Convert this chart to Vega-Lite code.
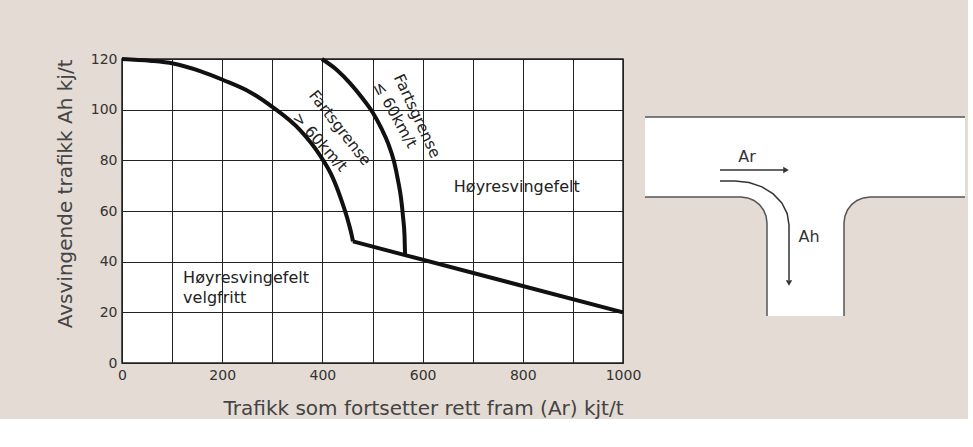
{
  "$schema": "https://vega.github.io/schema/vega-lite/v6.json",
  "background": "#e3dbd4",
  "padding": {"left": 54, "top": 51, "right": 0, "bottom": 0},
  "spacing": 0,
  "config": {
    "font": "DejaVu Sans",
    "view": {"stroke": null},
    "text": {"font": "DejaVu Sans"}
  },
  "datasets": {
    "curves": [
      {"series": "over60", "i": 0, "x": 0, "y": 120},
      {"series": "over60", "i": 1, "x": 56, "y": 119.3},
      {"series": "over60", "i": 2, "x": 102, "y": 118.2},
      {"series": "over60", "i": 3, "x": 156, "y": 115.2},
      {"series": "over60", "i": 4, "x": 202, "y": 111.7},
      {"series": "over60", "i": 5, "x": 255, "y": 107},
      {"series": "over60", "i": 6, "x": 302, "y": 100.8},
      {"series": "over60", "i": 7, "x": 355, "y": 92},
      {"series": "over60", "i": 8, "x": 395, "y": 82},
      {"series": "over60", "i": 9, "x": 421, "y": 73},
      {"series": "over60", "i": 10, "x": 441, "y": 62.5},
      {"series": "over60", "i": 11, "x": 452, "y": 55.5},
      {"series": "over60", "i": 12, "x": 459, "y": 50},
      {"series": "over60", "i": 13, "x": 461, "y": 48},
      {"series": "under60", "i": 0, "x": 399, "y": 120},
      {"series": "under60", "i": 1, "x": 430, "y": 115.5},
      {"series": "under60", "i": 2, "x": 455, "y": 110.5},
      {"series": "under60", "i": 3, "x": 480, "y": 104.5},
      {"series": "under60", "i": 4, "x": 501, "y": 98.7},
      {"series": "under60", "i": 5, "x": 518, "y": 92.5},
      {"series": "under60", "i": 6, "x": 531, "y": 86.8},
      {"series": "under60", "i": 7, "x": 543, "y": 79.5},
      {"series": "under60", "i": 8, "x": 551, "y": 72},
      {"series": "under60", "i": 9, "x": 557, "y": 65},
      {"series": "under60", "i": 10, "x": 561, "y": 57.6},
      {"series": "under60", "i": 11, "x": 564, "y": 50},
      {"series": "under60", "i": 12, "x": 565, "y": 42.6}
    ],
    "baseline": [
      {"i": 0, "x": 461, "y": 48},
      {"i": 1, "x": 565, "y": 42.6},
      {"i": 2, "x": 1000, "y": 20}
    ],
    "label1a": [{"x": 435, "y": 92.8, "t": "Fartsgrense"}],
    "label1b": [{"x": 395, "y": 87.2, "t": "> 60km/t"}],
    "label2a": [{"x": 589, "y": 97.5, "t": "Fartsgrense"}],
    "label2b": [{"x": 545, "y": 98, "t": "≤ 60km/t"}],
    "region1": [{"x": 788, "y": 69.5, "t": "Høyresvingefelt"}],
    "region2": [{"x": 122, "y": 33.5, "t": "Høyresvingefelt"}, {"x": 122, "y": 25.6, "t": "velgfritt"}],
    "roadRects": [
      {"x": 0, "x2": 320, "y": 0, "y2": 80},
      {"x": 122, "x2": 199, "y": 79, "y2": 199}
    ],
    "filletL": [
      {"x": 96, "y": 80},
      {"x": 102.7, "y": 80.9},
      {"x": 109, "y": 83.5},
      {"x": 114.4, "y": 87.6},
      {"x": 118.5, "y": 93},
      {"x": 121.1, "y": 99.3},
      {"x": 122, "y": 106}
    ],
    "filletR": [
      {"x": 199, "y": 106},
      {"x": 199.9, "y": 99.3},
      {"x": 202.5, "y": 93},
      {"x": 206.6, "y": 87.6},
      {"x": 212, "y": 83.5},
      {"x": 218.3, "y": 80.9},
      {"x": 225, "y": 80}
    ],
    "edges": [
      {"seg": "top", "i": 0, "x": 0, "y": 0},
      {"seg": "top", "i": 1, "x": 320, "y": 0},
      {"seg": "left", "i": 0, "x": 0, "y": 80},
      {"seg": "left", "i": 1, "x": 96, "y": 80},
      {"seg": "left", "i": 2, "x": 102.7, "y": 80.9},
      {"seg": "left", "i": 3, "x": 109, "y": 83.5},
      {"seg": "left", "i": 4, "x": 114.4, "y": 87.6},
      {"seg": "left", "i": 5, "x": 118.5, "y": 93},
      {"seg": "left", "i": 6, "x": 121.1, "y": 99.3},
      {"seg": "left", "i": 7, "x": 122, "y": 106},
      {"seg": "left", "i": 8, "x": 122, "y": 199},
      {"seg": "right", "i": 0, "x": 199, "y": 199},
      {"seg": "right", "i": 1, "x": 199, "y": 106},
      {"seg": "right", "i": 2, "x": 199.9, "y": 99.3},
      {"seg": "right", "i": 3, "x": 202.5, "y": 93},
      {"seg": "right", "i": 4, "x": 206.6, "y": 87.6},
      {"seg": "right", "i": 5, "x": 212, "y": 83.5},
      {"seg": "right", "i": 6, "x": 218.3, "y": 80.9},
      {"seg": "right", "i": 7, "x": 225, "y": 80},
      {"seg": "right", "i": 8, "x": 320, "y": 80}
    ],
    "arrows": [
      {"seg": "ar", "i": 0, "x": 75, "y": 53},
      {"seg": "ar", "i": 1, "x": 139, "y": 53},
      {"seg": "ah", "i": 0, "x": 75, "y": 64},
      {"seg": "ah", "i": 1, "x": 90, "y": 64},
      {"seg": "ah", "i": 2, "x": 104, "y": 65.5},
      {"seg": "ah", "i": 3, "x": 117, "y": 69.9},
      {"seg": "ah", "i": 4, "x": 128.2, "y": 76.9},
      {"seg": "ah", "i": 5, "x": 136.8, "y": 86},
      {"seg": "ah", "i": 6, "x": 142.2, "y": 96.6},
      {"seg": "ah", "i": 7, "x": 144, "y": 108},
      {"seg": "ah", "i": 8, "x": 144, "y": 163}
    ],
    "headAr": [{"x": 141, "y": 53}],
    "headAh": [{"x": 144, "y": 166}],
    "textAr": [{"x": 102, "y": 40, "t": "Ar"}],
    "textAh": [{"x": 164, "y": 120, "t": "Ah"}]
  },
  "hconcat": [
    {
      "width": 501,
      "height": 304,
      "view": {"fill": "white", "stroke": "#222", "strokeWidth": 1.5},
      "encoding": {
        "x": {
          "field": "x", "type": "quantitative",
          "scale": {"domain": [0, 1000], "nice": false},
          "axis": {
            "title": "Trafikk som fortsetter rett fram (Ar) kjt/t",
            "values": [0, 100, 200, 300, 400, 500, 600, 700, 800, 900, 1000],
            "format": "d",
            "labelExpr": "datum.value % 200 === 0 ? datum.label : ''",
            "grid": true, "gridColor": "#222", "gridOpacity": 1, "gridWidth": 1,
            "ticks": false, "domain": false,
            "labelFontSize": 14, "labelColor": "#333", "labelPadding": 5, "labelFlush": false,
            "titleFontSize": 20, "titleFontWeight": "normal", "titleColor": "#444",
            "titleAnchor": "end", "titlePadding": 16
          }
        },
        "y": {
          "field": "y", "type": "quantitative",
          "scale": {"domain": [0, 120], "nice": false},
          "axis": {
            "title": "Avsvingende trafikk  Ah kj/t",
            "values": [0, 20, 40, 60, 80, 100, 120],
            "grid": true, "gridColor": "#222", "gridOpacity": 1, "gridWidth": 1,
            "ticks": false, "domain": false,
            "labelFontSize": 14, "labelColor": "#333", "labelPadding": 5,
            "titleFontSize": 20, "titleFontWeight": "normal", "titleColor": "#444",
            "titleAnchor": "end", "titlePadding": 15
          }
        }
      },
      "layer": [
        {
          "data": {"name": "curves"},
          "mark": {"type": "line", "color": "#111", "strokeWidth": 4, "strokeJoin": "round", "clip": false, "interpolate": "monotone"},
          "encoding": {"detail": {"field": "series"}, "order": {"field": "i"}}
        },
        {
          "data": {"name": "baseline"},
          "mark": {"type": "line", "color": "#111", "strokeWidth": 4, "strokeJoin": "round", "clip": false},
          "encoding": {"order": {"field": "i"}}
        },
        {
          "data": {"name": "label1a"},
          "mark": {"type": "text", "angle": 52, "fontSize": 15.5, "color": "#222", "align": "center", "baseline": "middle"},
          "encoding": {"text": {"field": "t"}}
        },
        {
          "data": {"name": "label1b"},
          "mark": {"type": "text", "angle": 48, "fontSize": 15.5, "color": "#222", "align": "center", "baseline": "middle"},
          "encoding": {"text": {"field": "t"}}
        },
        {
          "data": {"name": "label2a"},
          "mark": {"type": "text", "angle": 65, "fontSize": 15.5, "color": "#222", "align": "center", "baseline": "middle"},
          "encoding": {"text": {"field": "t"}}
        },
        {
          "data": {"name": "label2b"},
          "mark": {"type": "text", "angle": 61, "fontSize": 15.5, "color": "#222", "align": "center", "baseline": "middle"},
          "encoding": {"text": {"field": "t"}}
        },
        {
          "data": {"name": "region1"},
          "mark": {"type": "text", "fontSize": 16, "color": "#222", "align": "center", "baseline": "middle"},
          "encoding": {"text": {"field": "t"}}
        },
        {
          "data": {"name": "region2"},
          "mark": {"type": "text", "fontSize": 16, "color": "#222", "align": "left", "baseline": "middle"},
          "encoding": {"text": {"field": "t"}}
        }
      ]
    },
    {
      "width": 320,
      "height": 257,
      "encoding": {
        "x": {"field": "x", "type": "quantitative", "scale": {"domain": [0, 320], "nice": false, "zero": false}, "axis": null},
        "y": {"field": "y", "type": "quantitative", "scale": {"domain": [-58, 199], "nice": false, "zero": false, "reverse": true}, "axis": null}
      },
      "layer": [
        {
          "data": {"name": "roadRects"},
          "mark": {"type": "rect", "color": "white", "opacity": 1},
          "encoding": {"x2": {"field": "x2"}, "y2": {"field": "y2"}}
        },
        {
          "data": {"name": "filletL"},
          "mark": {"type": "area", "color": "white", "opacity": 1},
          "encoding": {"y2": {"datum": 79}}
        },
        {
          "data": {"name": "filletR"},
          "mark": {"type": "area", "color": "white", "opacity": 1},
          "encoding": {"y2": {"datum": 79}}
        },
        {
          "data": {"name": "edges"},
          "mark": {"type": "line", "color": "#555", "strokeWidth": 1.5},
          "encoding": {"detail": {"field": "seg"}, "order": {"field": "i"}}
        },
        {
          "data": {"name": "arrows"},
          "mark": {"type": "line", "color": "#333", "strokeWidth": 1.5},
          "encoding": {"detail": {"field": "seg"}, "order": {"field": "i"}}
        },
        {
          "data": {"name": "headAr"},
          "mark": {"type": "point", "shape": "triangle-right", "filled": true, "color": "#333", "size": 40, "opacity": 1},
          "encoding": {}
        },
        {
          "data": {"name": "headAh"},
          "mark": {"type": "point", "shape": "triangle-down", "filled": true, "color": "#333", "size": 40, "opacity": 1},
          "encoding": {}
        },
        {
          "data": {"name": "textAr"},
          "mark": {"type": "text", "fontSize": 16, "color": "#333", "align": "center", "baseline": "middle"},
          "encoding": {"text": {"field": "t"}}
        },
        {
          "data": {"name": "textAh"},
          "mark": {"type": "text", "fontSize": 16, "color": "#333", "align": "center", "baseline": "middle"},
          "encoding": {"text": {"field": "t"}}
        }
      ]
    }
  ]
}
